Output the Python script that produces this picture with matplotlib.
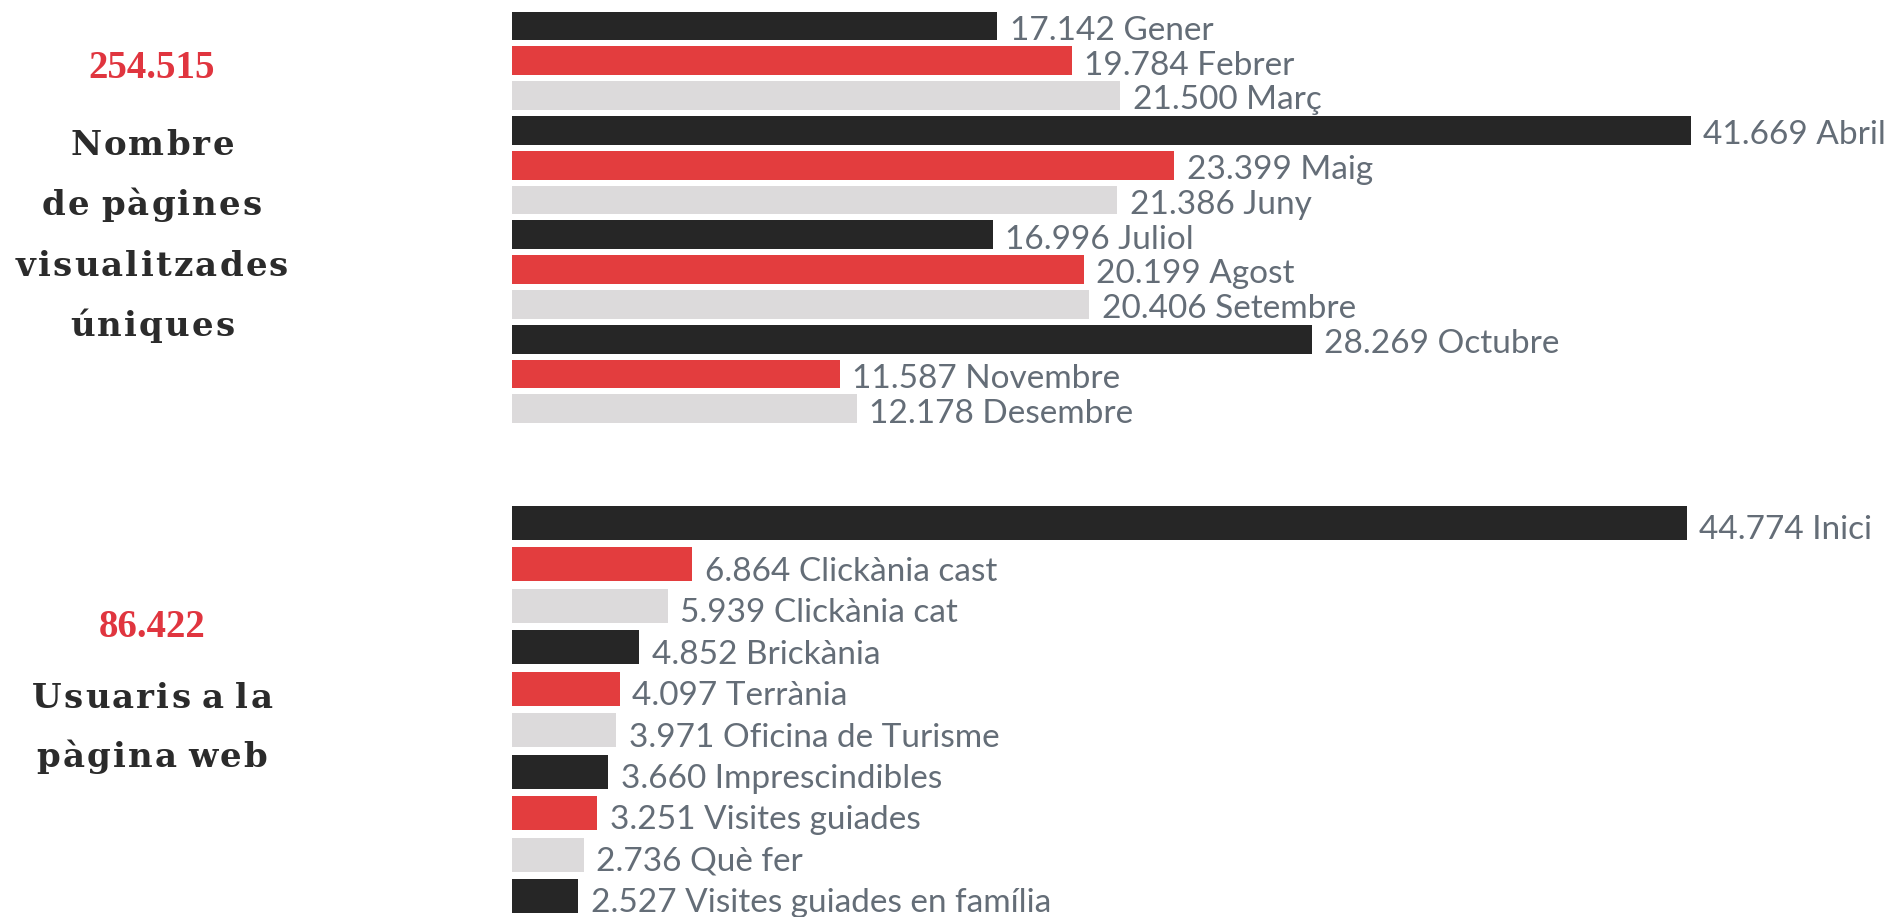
import matplotlib
matplotlib.use("Agg")
import matplotlib.pyplot as plt
from matplotlib.font_manager import FontProperties

# ---- data ----
months = ["Gener", "Febrer", "Març", "Abril", "Maig", "Juny", "Juliol",
          "Agost", "Setembre", "Octubre", "Novembre", "Desembre"]
month_values = [17142, 19784, 21500, 41669, 23399, 21386, 16996,
                20199, 20406, 28269, 11587, 12178]
month_value_labels = ["17.142", "19.784", "21.500", "41.669", "23.399", "21.386",
                      "16.996", "20.199", "20.406", "28.269", "11.587", "12.178"]

pages = ["Inici", "Clickània cast", "Clickània cat", "Brickània", "Terrània",
         "Oficina de Turisme", "Imprescindibles", "Visites guiades", "Què fer",
         "Visites guiades en família"]
page_values = [44774, 6864, 5939, 4852, 4097, 3971, 3660, 3251, 2736, 2527]
page_value_labels = ["44.774", "6.864", "5.939", "4.852", "4.097", "3.971",
                     "3.660", "3.251", "2.736", "2.527"]

total_top = "254.515"
title_top = ["Nombre", "de pàgines", "visualitzades", "úniques"]
total_bottom = "86.422"
title_bottom = ["Usuaris a la", "pàgina web"]

# ---- style ----
BLACK = "#262626"
RED = "#e33d3e"
GREY = "#dcdadb"
cycle = [BLACK, RED, GREY]
LABEL_COLOR = "#646d77"
TITLE_COLOR = "#2b2b2b"
NUM_RED = "#e0353f"

W, H = 1894, 917
DPI = 100
fig = plt.figure(figsize=(W / DPI, H / DPI), dpi=DPI)
fig.patch.set_facecolor("white")


def px_axes(left, top, right, bottom):
    return fig.add_axes([left / W, 1 - bottom / H, (right - left) / W, (bottom - top) / H])


def draw_bars(ax, names, values, vlabels, xmax, height):
    n = len(values)
    colors = [cycle[i % 3] for i in range(n)]
    ys = list(range(n))
    ax.barh(ys, values, height=height, color=colors, edgecolor="none")
    ax.set_xlim(0, xmax)
    ax.set_ylim(n - 0.5, -0.5)
    ax.axis("off")
    for y, v, vl, nm in zip(ys, values, vlabels, names):
        ax.annotate(f"{vl} {nm}", xy=(v, y + height / 2), xytext=(9, 0.5),
                    textcoords="offset points", va="baseline", ha="left",
                    fontsize=24, family="Lato", color=LABEL_COLOR)


# top chart
ax1 = px_axes(512, 8.6, W, 426.2)
draw_bars(ax1, months, month_values, month_value_labels, 48844, 0.833)

# bottom chart
ax2 = px_axes(512, 502.3, W, 916.7)
draw_bars(ax2, pages, page_values, page_value_labels, 52663, 0.82)

# left texts (letter-spaced serif)
TITLE_FP = FontProperties(family="DejaVu Serif", weight="bold", size=24.5)
TRACK_PX = 2.2
SPACE_FACTOR = 0.6


def tracked_text(cx_px, base_px, s, fp, color, track):
    renderer = fig.canvas.get_renderer()
    ref = fig.text(0, 0, "nn", fontproperties=fp)
    w_nn = ref.get_window_extent(renderer).width
    ref.remove()
    widths = []
    for ch in s:
        t = fig.text(0, 0, "n" + ch + "n", fontproperties=fp)
        w = t.get_window_extent(renderer).width - w_nn
        t.remove()
        if ch == " ":
            w *= SPACE_FACTOR
        widths.append(w)
    total = sum(widths) + track * (len(s) - 1)
    x = cx_px - total / 2
    for ch, w in zip(s, widths):
        if ch != " ":
            fig.text(x / W, 1 - base_px / H, ch, ha="left", va="baseline",
                     fontproperties=fp, color=color)
        x += w + track


CX = 152
fig.text(CX / W, 1 - 78 / H, total_top, ha="center", va="baseline",
         family="Liberation Serif", fontweight="bold", fontsize=28, color=NUM_RED)
for line, base in zip(title_top, [155, 215, 276, 336]):
    tracked_text(CX, base, line, TITLE_FP, TITLE_COLOR, TRACK_PX)

fig.text(CX / W, 1 - 637 / H, total_bottom, ha="center", va="baseline",
         family="Liberation Serif", fontweight="bold", fontsize=28, color=NUM_RED)
for line, base in zip(title_bottom, [708, 767]):
    tracked_text(CX, base, line, TITLE_FP, TITLE_COLOR, TRACK_PX)

fig.savefig("out.png", dpi=DPI, facecolor="white")
